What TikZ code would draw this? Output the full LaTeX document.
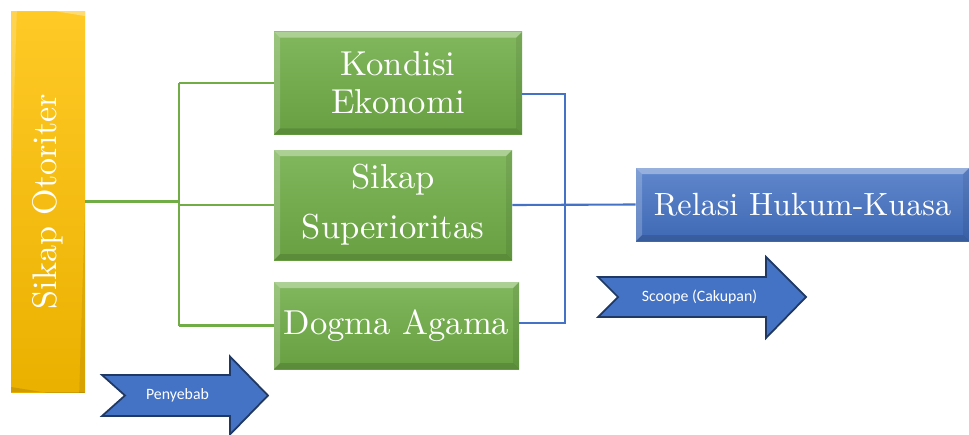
\documentclass[tikz,border=0pt]{standalone}
\usepackage{fontspec}
\newfontfamily\boxfont{lmroman10-regular}[Extension=.otf]
\setsansfont{Carlito}
\usetikzlibrary{positioning}
\definecolor{boxgreen}{HTML}{70AD47}
\definecolor{boxgold}{HTML}{FFC000}
\definecolor{boxblue}{HTML}{4472C4}
\definecolor{arrowline}{HTML}{1F3864}
\tikzset{
  bevel/.style={path picture={
    \fill[white,opacity=.35] (path picture bounding box.north west) -- (path picture bounding box.north east)
      -- ([shift={(-1.2mm,-1.2mm)}]path picture bounding box.north east) -- ([shift={(1.2mm,-1.2mm)}]path picture bounding box.north west) -- cycle;
    \fill[white,opacity=.2] (path picture bounding box.north west) -- ([shift={(1.2mm,-1.2mm)}]path picture bounding box.north west)
      -- ([shift={(1.2mm,1.2mm)}]path picture bounding box.south west) -- (path picture bounding box.south west) -- cycle;
    \fill[black,opacity=.12] (path picture bounding box.south west) -- ([shift={(1.2mm,1.2mm)}]path picture bounding box.south west)
      -- ([shift={(-1.2mm,1.2mm)}]path picture bounding box.south east) -- (path picture bounding box.south east) -- cycle;
    \fill[black,opacity=.08] (path picture bounding box.south east) -- ([shift={(-1.2mm,1.2mm)}]path picture bounding box.south east)
      -- ([shift={(-1.2mm,-1.2mm)}]path picture bounding box.north east) -- (path picture bounding box.north east) -- cycle;
  }},
  greenbox/.style={bevel,top color=boxgreen!88!white,bottom color=boxgreen!92!black,text=white,
    align=center,inner sep=0pt,font=\boxfont\fontsize{19.7}{21.5}\selectfont},
  goldbox/.style={bevel,top color=boxgold!85!white,bottom color=boxgold!92!black,text=white,
    inner sep=0pt,font=\boxfont\fontsize{19.4}{21}\selectfont},
  bluebox/.style={bevel,top color=boxblue!85!white,bottom color=boxblue!92!black,text=white,
    inner sep=0pt,font=\boxfont\fontsize{18.3}{20}\selectfont},
  greenline/.style={draw=boxgreen,line width=1.2pt},
  blueline/.style={draw=boxblue,line width=1.2pt},
  blockarrow/.style={fill=boxblue,draw=arrowline,line width=1pt,line join=miter},
  arrowtext/.style={text=white,font=\sffamily\fontsize{9}{10}\selectfont}
}
\begin{document}
\begin{tikzpicture}
\useasboundingbox (0,0) rectangle (19.38,8.68);
% kotak utama
\node[goldbox,rotate=90,minimum width=7.62cm,minimum height=1.48cm] (oto) at (0.96,4.65) {Sikap Otoriter};
\node[greenbox,minimum width=4.96cm,minimum height=2.05cm] (eko) at (7.96,7.02) {Kondisi\\[0pt]Ekonomi};
\node[greenbox,minimum width=4.76cm,minimum height=2.2cm] (sup) at (7.86,4.58) {Sikap\\[7pt]Superioritas};
\node[greenbox,minimum width=4.90cm,minimum height=1.74cm] (dog) at (7.93,2.17) {Dogma Agama};
\node[bluebox,minimum width=6.66cm,minimum height=1.46cm] (rel) at (16.05,4.59) {Relasi Hukum-Kuasa};
% garis hijau
\coordinate (gv) at (3.58,0);
\draw[greenline,line width=1.8pt] (oto.south) -- (oto.south -| gv);
\draw[greenline] (eko.west -| gv) -- (dog.west -| gv);
\draw[greenline] (eko.west -| gv) -- (eko.west);
\draw[greenline] (sup.west -| gv) -- (sup.west);
\draw[greenline] (dog.west -| gv) -- (dog.west);
% garis biru
\coordinate (bv) at (11.30,0);
\draw[blueline] ([yshift=-0.22cm]eko.east) -- ([yshift=-0.22cm]eko.east -| bv) -- ([yshift=0.05cm]dog.east -| bv) -- ([yshift=0.05cm]dog.east);
\draw[blueline] (sup.east) -- (rel.west);
% panah
\draw[blockarrow] (2.04,1.18) -- (4.60,1.18) -- (4.60,1.55) -- (5.36,0.77) -- (4.60,-0.01) -- (4.60,0.36)
  -- (2.04,0.36) -- (2.50,0.77) -- cycle;
\node[arrowtext] (pen) at (3.55,0.77) {Penyebab};
\draw[blockarrow] (11.96,3.14) -- (15.32,3.14) -- (15.32,3.54) -- (16.12,2.74) -- (15.32,1.92) -- (15.32,2.34)
  -- (11.96,2.34) -- (12.36,2.74) -- cycle;
\node[arrowtext] (scp) at (13.99,2.74) {Scoope (Cakupan)};
\end{tikzpicture}
\end{document}
